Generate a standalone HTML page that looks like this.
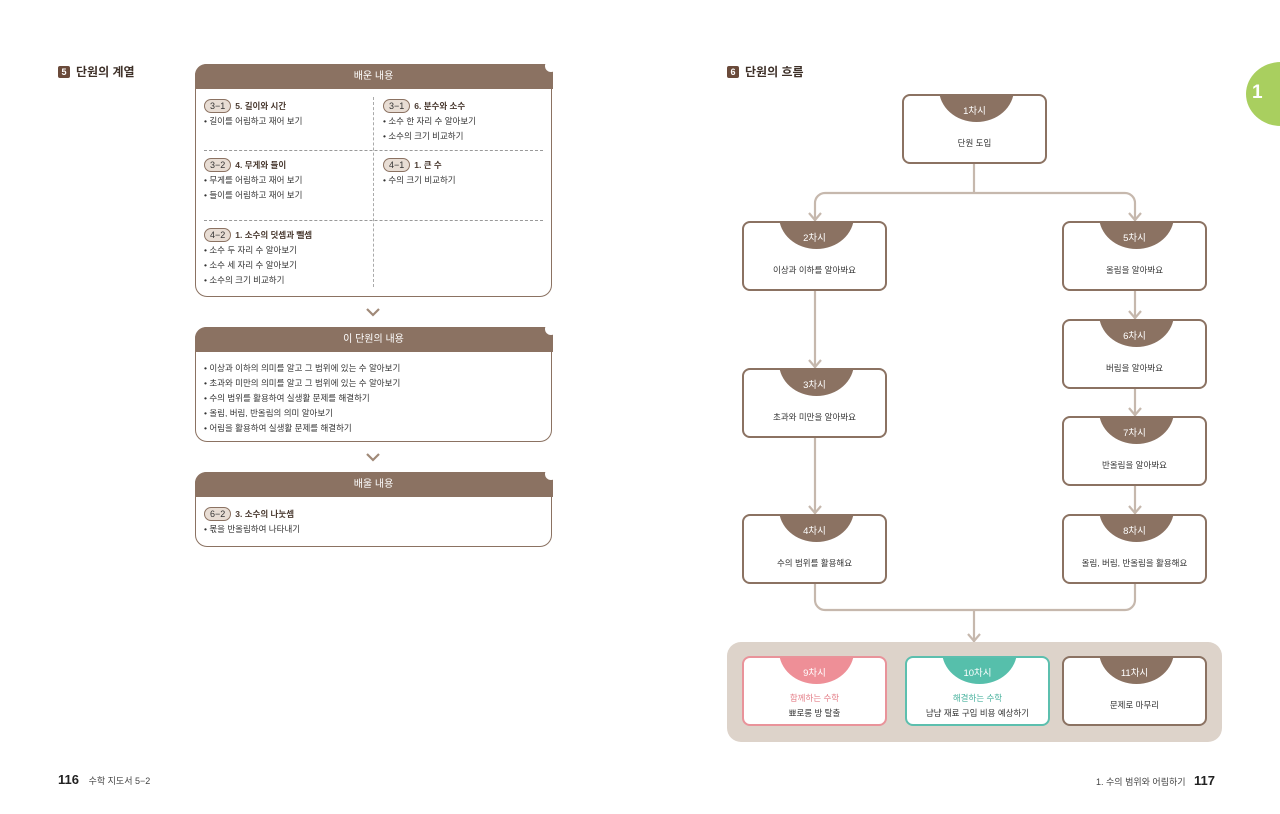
<!DOCTYPE html>
<html><head><meta charset="utf-8"><style>
*{margin:0;padding:0;box-sizing:border-box}
body{width:1280px;height:814px;background:#fff;position:relative;overflow:hidden;font-family:"Liberation Sans","Noto Sans CJK KR",sans-serif;color:#333}
.a{position:absolute}
.ttl{font-weight:bold;font-size:12px;color:#3d2f27}
.num{display:inline-block;width:12px;height:12px;background:#6a4a3a;color:#fff;font-size:9px;text-align:center;line-height:12px;margin-right:6px;border-radius:2px;vertical-align:1px}
.panel{position:absolute;left:195px;width:357px;border:1.5px solid #8b7262;border-radius:12px 0 12px 12px;background:#fff}
.ph{height:25px;background:#8b7262;color:#fff;text-align:center;font-size:10px;line-height:25px;border-radius:11px 0 0 0;margin:-1.5px -1.5px 0 -1.5px;position:relative}
.ph:after{content:"";position:absolute;right:-4px;top:-4px;width:12px;height:12px;background:#fff;border-radius:50%}
.t{font-size:8.5px;line-height:15px;color:#333}
.pill{display:inline-block;border:1px solid #8b7262;background:#e8ddd4;border-radius:8px;padding:0 5px;font-size:9px;line-height:12px;margin-right:4px;color:#333}
.b{font-size:8.5px;font-weight:bold;color:#4a3a30}
.node{position:absolute;width:145px;height:70px;border:2px solid #8b7262;border-radius:8px;background:#fff;overflow:hidden;text-align:center}
.tab{position:absolute;left:35px;top:-40px;width:75px;height:66px;border-radius:50%;background:#8b7262}
.tl{position:absolute;left:0;right:0;top:7px;color:#fff;font-size:9.5px}
.nt{position:absolute;left:0;right:0;top:41px;font-size:8.5px;color:#333}
.hl{border-bottom:1px dashed #999;position:absolute}
</style></head><body>

<div class="a ttl" style="left:58px;top:63px"><span class="num">5</span>단원의 계열</div>
<div class="a ttl" style="left:727px;top:63px"><span class="num">6</span>단원의 흐름</div>
<div class="a" style="left:1246px;top:62px;width:70px;height:64px;border-radius:50%;background:#a9cf5f"></div>
<div class="a" style="left:1252px;top:82px;color:#fff;font-weight:bold;font-size:19px">1</div>

<div class="panel" style="top:64px;height:233px">
<div class="ph">배운 내용</div>
<div class="a" style="left:177px;top:32px;height:190px;border-left:1px dashed #aaa"></div>
<div class="hl" style="left:8px;right:8px;top:85px"></div>
<div class="hl" style="left:8px;right:8px;top:155px"></div>
<div class="a t" style="left:8px;top:34px"><span class="pill">3−1</span><span class="b">5. 길이와 시간</span><br>• 길이를 어림하고 재어 보기</div>
<div class="a t" style="left:187px;top:34px"><span class="pill">3−1</span><span class="b">6. 분수와 소수</span><br>• 소수 한 자리 수 알아보기<br>• 소수의 크기 비교하기</div>
<div class="a t" style="left:8px;top:93px"><span class="pill">3−2</span><span class="b">4. 무게와 들이</span><br>• 무게를 어림하고 재어 보기<br>• 들이를 어림하고 재어 보기</div>
<div class="a t" style="left:187px;top:93px"><span class="pill">4−1</span><span class="b">1. 큰 수</span><br>• 수의 크기 비교하기</div>
<div class="a t" style="left:8px;top:163px"><span class="pill">4−2</span><span class="b">1. 소수의 덧셈과 뺄셈</span><br>• 소수 두 자리 수 알아보기<br>• 소수 세 자리 수 알아보기<br>• 소수의 크기 비교하기</div>
</div>

<svg class="a" style="left:0;top:0" width="1280" height="814">
<g fill="none" stroke="#a08978" stroke-width="2.2"><path d="M367 309l6 6 6-6"/><path d="M367 454l6 6 6-6"/></g>
<g fill="none" stroke="#c6b8ad" stroke-width="2.2">
<path d="M974 163V193M815 221V203a10 10 0 0 1 10-10H1125a10 10 0 0 1 10 10V221"/>
<path d="M815 291V368M815 437V514M1135 291V319M1135 388V416M1135 485V514"/>
<path d="M815 583V600a10 10 0 0 0 10 10H1125a10 10 0 0 0 10-10V583M974 610V642"/>
<path d="M809 213l6 7 6-7M1129 213l6 7 6-7M809 360l6 7 6-7M809 506l6 7 6-7M1129 311l6 7 6-7M1129 408l6 7 6-7M1129 506l6 7 6-7M968 634l6 7 6-7"/>
</g></svg>

<div class="panel" style="top:327px;height:115px">
<div class="ph">이 단원의 내용</div>
<div class="a t" style="left:8px;top:33px">• 이상과 이하의 의미를 알고 그 범위에 있는 수 알아보기<br>• 초과와 미만의 의미를 알고 그 범위에 있는 수 알아보기<br>• 수의 범위를 활용하여 실생활 문제를 해결하기<br>• 올림, 버림, 반올림의 의미 알아보기<br>• 어림을 활용하여 실생활 문제를 해결하기</div>
</div>
<div class="panel" style="top:472px;height:75px">
<div class="ph">배울 내용</div>
<div class="a t" style="left:8px;top:34px"><span class="pill">6−2</span><span class="b">3. 소수의 나눗셈</span><br>• 몫을 반올림하여 나타내기</div>
</div>

<div class="node" style="left:902px;top:94px"><div class="tab"></div><div class="tl">1차시</div><div class="nt">단원 도입</div></div>
<div class="node" style="left:742px;top:221px"><div class="tab"></div><div class="tl">2차시</div><div class="nt">이상과 이하를 알아봐요</div></div>
<div class="node" style="left:1062px;top:221px"><div class="tab"></div><div class="tl">5차시</div><div class="nt">올림을 알아봐요</div></div>
<div class="node" style="left:1062px;top:319px"><div class="tab"></div><div class="tl">6차시</div><div class="nt">버림을 알아봐요</div></div>
<div class="node" style="left:742px;top:368px"><div class="tab"></div><div class="tl">3차시</div><div class="nt">초과와 미만을 알아봐요</div></div>
<div class="node" style="left:1062px;top:416px"><div class="tab"></div><div class="tl">7차시</div><div class="nt">반올림을 알아봐요</div></div>
<div class="node" style="left:742px;top:514px"><div class="tab"></div><div class="tl">4차시</div><div class="nt">수의 범위를 활용해요</div></div>
<div class="node" style="left:1062px;top:514px"><div class="tab"></div><div class="tl">8차시</div><div class="nt">올림, 버림, 반올림을 활용해요</div></div>

<div class="a" style="left:727px;top:642px;width:495px;height:100px;background:#ddd3ca;border-radius:14px"></div>
<div class="node" style="left:742px;top:656px;border-color:#e9939a"><div class="tab" style="background:#ee8f97"></div><div class="tl">9차시</div><div class="nt" style="top:33px;line-height:15px"><span style="color:#e47f88">함께하는 수학</span><br>뾰로롱 방 탈출</div></div>
<div class="node" style="left:905px;top:656px;border-color:#5cbfae"><div class="tab" style="background:#56bfab"></div><div class="tl">10차시</div><div class="nt" style="top:33px;line-height:15px"><span style="color:#4bb39f">해결하는 수학</span><br>냠냠 재료 구입 비용 예상하기</div></div>
<div class="node" style="left:1062px;top:656px"><div class="tab"></div><div class="tl">11차시</div><div class="nt">문제로 마무리</div></div>

<div class="a" style="left:58px;top:772px;font-size:13px;font-weight:bold;color:#222">116 <span style="font-size:9px;font-weight:normal;color:#444;margin-left:6px">수학 지도서 5−2</span></div>
<div class="a" style="left:1096px;top:772px;font-size:9px;color:#444;line-height:18px">1. 수의 범위와 어림하기 <span style="font-size:13px;font-weight:bold;color:#222;margin-left:6px">117</span></div>
</body></html>
